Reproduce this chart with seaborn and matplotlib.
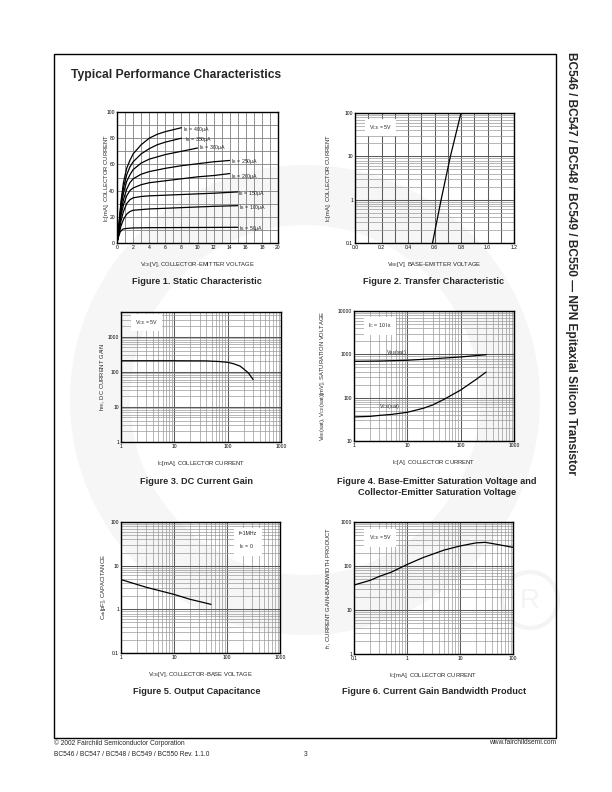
import matplotlib
matplotlib.use("Agg")
import matplotlib.pyplot as plt
from matplotlib.patches import Rectangle, Wedge, Circle
from matplotlib.ticker import FixedLocator, FixedFormatter, MultipleLocator, LogLocator, NullFormatter
import pandas as pd
import seaborn as sns

sns.set_theme(style="white")
plt.rcParams["font.family"] = ["Liberation Sans", "DejaVu Sans"]
plt.rcParams["mathtext.default"] = "regular"

# ---- data ----
# Figure 1: static characteristic, one curve per base current
IB_LABELS = ["400", "350", "300", "250", "200", "150", "100", "50"]
VCE_CURVES = [
    [0, 0.25, 0.5, 0.8, 1.2, 1.6, 2, 3, 4, 5, 6, 7, 8],
    [0, 0.25, 0.5, 0.8, 1.2, 1.6, 2, 3, 4, 5, 6, 7, 8],
    [0, 0.25, 0.5, 0.8, 1.2, 1.6, 2, 3, 4, 6, 8, 10],
    [0, 0.25, 0.5, 0.8, 1.2, 1.6, 2, 3, 4, 6, 8, 10, 12, 14],
    [0, 0.25, 0.5, 0.8, 1.2, 1.6, 2, 3, 4, 6, 8, 10, 12, 14],
    [0, 0.25, 0.5, 0.8, 1.2, 1.6, 2, 3, 4, 6, 8, 10, 12, 15],
    [0, 0.25, 0.5, 0.8, 1.2, 1.6, 2, 3, 4, 6, 8, 10, 12, 15],
    [0, 0.2, 0.4, 0.7, 1, 2, 4, 8, 12, 15],
]
IC_CURVES = [
    [0, 15, 32, 46, 57, 63, 68, 75, 80, 83, 85, 86.5, 88],
    [0, 14, 30, 42, 52, 58, 62, 68, 72, 75, 77, 78.5, 80],
    [0, 13, 27, 38, 47, 52, 56, 61, 64, 67.5, 70, 72.5],
    [0, 12, 24, 33, 41, 46, 49, 52.5, 54.5, 57, 59, 60.5, 62, 63],
    [0, 11, 21, 29, 36, 40, 42, 44.5, 46, 47.5, 49, 50.5, 51.5, 53],
    [0, 9, 17, 24, 30, 33, 34.5, 35.5, 36, 36.5, 37, 37.5, 38, 39],
    [0, 7, 13, 18, 22, 24, 25, 25.5, 26, 26.5, 27, 27.5, 28, 28.5],
    [0, 5, 8.5, 10.5, 11, 11.5, 11.7, 11.8, 11.9, 12],
]
IB_TEXT_X = [8.2, 8.4, 10.2, 14.1, 14.1, 15.0, 15.1, 15.1]
IB_TEXT_Y = [87, 79, 73, 62, 51, 38, 27, 11]

# Figure 2: transfer characteristic
VBE = [0.585, 0.65, 0.72, 0.80]
IC_TRANSFER = [0.1, 1, 10, 100]

# Figure 3: DC current gain
IC_GAIN = [1, 10, 40, 70, 100, 130, 170, 200, 245, 300]
HFE = [205, 205, 203, 195, 185, 168, 145, 120, 92, 60]

# Figure 4: saturation voltages
IC_VBE_SAT = [1, 3, 10, 30, 100, 300]
VBE_SAT = [690, 700, 730, 790, 870, 980]
IC_VCE_SAT = [1, 2, 3, 5, 10, 20, 30, 50, 100, 200, 300]
VCE_SAT = [36, 37, 39, 41, 46, 57, 68, 93, 150, 270, 390]

# Figure 5: output capacitance
VCB = [1, 3, 10, 20, 50]
COB = [4.8, 3.2, 2.2, 1.7, 1.3]

# Figure 6: gain bandwidth product
IC_FT = [0.1, 0.2, 0.3, 0.5, 1, 2, 5, 10, 20, 30, 50, 100]
FT = [37, 47, 58, 72, 108, 155, 230, 285, 335, 345, 310, 265]

W, H = 612, 792
fig = plt.figure(figsize=(6.12, 7.92), dpi=100)


def rect(l, r, t, b):
    return [l / W, 1 - b / H, (r - l) / W, (b - t) / H]


# faint logo watermark behind everything
bg = fig.add_axes([0, 0, 1, 1], zorder=-5)
bg.set_xlim(0, W)
bg.set_ylim(H, 0)
bg.axis("off")
bg.add_patch(Wedge((305, 400), 235, 0, 360, width=60, color="#f6f6f6", lw=0))
bg.add_patch(Circle((530, 600), 28, fill=False, ec="#f4f4f4", lw=3))
bg.text(530, 601, "R", ha="center", va="center", fontsize=20, color="#f4f4f4")
bg.add_patch(Rectangle((54, 54), 502, 684, fill=False, ec="black", lw=1.0))

GRID_MAJ = dict(color="#5a5a5a", lw=0.75)
GRID_MIN = dict(color="#9a9a9a", lw=0.5)
TXT = 3.8


def style(ax, xlabel, ylabel, xl_y, yl_x):
    ax.set_facecolor("none")
    for s in ax.spines.values():
        s.set_visible(True)
        s.set_color("black")
        s.set_linewidth(1.0)
    ax.tick_params(which="both", length=0, labelsize=3.6, pad=1.5, colors="black")
    ax.set_xlabel(xlabel, fontsize=4.2)
    ax.set_ylabel(ylabel, fontsize=4.2)
    ax.xaxis.set_label_coords(0.5, xl_y)
    ax.yaxis.set_label_coords(yl_x, 0.5)
    ax.set_axisbelow(True)


def log_axis(axis, ticks, labels):
    axis.set_major_locator(FixedLocator(ticks))
    axis.set_major_formatter(FixedFormatter(labels))
    axis.set_minor_locator(LogLocator(base=10, subs=range(2, 10), numticks=20))
    axis.set_minor_formatter(NullFormatter())


def log_grid(ax):
    ax.grid(True, which="major", **GRID_MAJ)
    ax.grid(True, which="minor", **GRID_MIN)


def note(ax, x, y, s, ha="center"):
    ax.text(x, y, s, transform=ax.transAxes, fontsize=TXT, ha=ha, va="center",
            bbox=dict(boxstyle="square,pad=0.8", fc="white", ec="none"), zorder=5)


def caption(x, y, s):
    fig.text(x / W, 1 - y / H, s, ha="center", va="center", fontsize=6.6,
             fontweight="bold", linespacing=1.15)


# ---- Figure 1 ----
ax1 = fig.add_axes(rect(117, 278, 112, 243))
rows = []
for lab, vs, ics in zip(IB_LABELS, VCE_CURVES, IC_CURVES):
    for v, c in zip(vs, ics):
        rows.append({"ib": lab, "vce": v, "ic": c})
df1 = pd.DataFrame(rows)
sns.lineplot(data=df1, x="vce", y="ic", hue="ib", palette=["black"] * len(IB_LABELS),
             estimator=None, sort=False, legend=False, lw=0.9, ax=ax1)
ax1.set_xlim(0, 20)
ax1.set_ylim(0, 100)
ax1.xaxis.set_major_locator(MultipleLocator(2))
ax1.xaxis.set_minor_locator(MultipleLocator(1))
ax1.yaxis.set_major_locator(MultipleLocator(20))
ax1.yaxis.set_minor_locator(MultipleLocator(10))
ax1.grid(True, which="both", color="#808080", lw=0.6)
for lab, tx, ty in zip(IB_LABELS, IB_TEXT_X, IB_TEXT_Y):
    ax1.text(tx, ty, rf"I$_B$ = {lab}μA", fontsize=TXT, ha="left", va="center")
style(ax1, r"V$_{CE}$[V], COLLECTOR-EMITTER VOLTAGE", r"I$_C$[mA], COLLECTOR CURRENT",
      -0.13, -0.04)

# ---- Figure 2 ----
ax2 = fig.add_axes(rect(355, 514, 113, 243))
sns.lineplot(x=VBE, y=IC_TRANSFER, color="black", lw=0.9, ax=ax2)
ax2.set_yscale("log")
ax2.set_xlim(0, 1.2)
ax2.set_ylim(0.1, 100)
ax2.xaxis.set_major_locator(MultipleLocator(0.2))
ax2.xaxis.set_minor_locator(MultipleLocator(0.1))
ax2.xaxis.set_major_formatter(matplotlib.ticker.FormatStrFormatter("%.1f"))
log_axis(ax2.yaxis, [0.1, 1, 10, 100], ["0.1", "1", "10", "100"])
ax2.grid(True, which="both", axis="x", **GRID_MAJ)
ax2.grid(True, which="major", axis="y", **GRID_MAJ)
ax2.grid(True, which="minor", axis="y", **GRID_MIN)
note(ax2, 0.16, 0.89, r"V$_{CE}$ = 5V")
style(ax2, r"V$_{BE}$[V], BASE-EMITTER VOLTAGE", r"I$_C$[mA], COLLECTOR CURRENT",
      -0.13, -0.14)

# ---- Figure 3 ----
ax3 = fig.add_axes(rect(121, 281, 312, 442))
sns.lineplot(x=IC_GAIN, y=HFE, color="black", lw=0.9, ax=ax3)
ax3.set_xscale("log")
ax3.set_yscale("log")
ax3.set_xlim(1, 1000)
ax3.set_ylim(1, 5000)
log_axis(ax3.xaxis, [1, 10, 100, 1000], ["1", "10", "100", "1000"])
log_axis(ax3.yaxis, [1, 10, 100, 1000], ["1", "10", "100", "1000"])
log_grid(ax3)
note(ax3, 0.16, 0.92, r"V$_{CE}$ = 5V")
style(ax3, r"I$_C$[mA], COLLECTOR CURRENT", r"h$_{FE}$, DC CURRENT GAIN", -0.13, -0.09)

# ---- Figure 4 ----
ax4 = fig.add_axes(rect(354, 514, 311, 441))
sns.lineplot(x=IC_VBE_SAT, y=VBE_SAT, color="black", lw=0.9, ax=ax4)
sns.lineplot(x=IC_VCE_SAT, y=VCE_SAT, color="black", lw=0.9, ax=ax4)
ax4.set_xscale("log")
ax4.set_yscale("log")
ax4.set_xlim(1, 1000)
ax4.set_ylim(10, 10000)
log_axis(ax4.xaxis, [1, 10, 100, 1000], ["1", "10", "100", "1000"])
log_axis(ax4.yaxis, [10, 100, 1000, 10000], ["10", "100", "1000", "10000"])
log_grid(ax4)
note(ax4, 0.16, 0.885, r"I$_C$ = 10 I$_B$")
ax4.text(6.2, 1080, r"V$_{BE}$(sat)", fontsize=TXT, ha="center", va="center")
ax4.text(4.7, 62, r"V$_{CE}$(sat)", fontsize=TXT, ha="center", va="center")
style(ax4, r"I$_C$[A], COLLECTOR CURRENT",
      r"V$_{BE}$(sat), V$_{CE}$(sat)[mV], SATURATION VOLTAGE", -0.13, -0.17)

# ---- Figure 5 ----
ax5 = fig.add_axes(rect(121, 280, 522, 653))
sns.lineplot(x=VCB, y=COB, color="black", lw=0.9, ax=ax5)
ax5.set_xscale("log")
ax5.set_yscale("log")
ax5.set_xlim(1, 1000)
ax5.set_ylim(0.1, 100)
log_axis(ax5.xaxis, [1, 10, 100, 1000], ["1", "10", "100", "1000"])
log_axis(ax5.yaxis, [0.1, 1, 10, 100], ["0.1", "1", "10", "100"])
log_grid(ax5)
ax5.text(0.74, 0.855, "f=1MHz\n" + r"I$_E$ = 0", transform=ax5.transAxes, fontsize=TXT,
         ha="left", va="center", linespacing=2.0,
         bbox=dict(boxstyle="square,pad=0.9", fc="white", ec="none"), zorder=5)
style(ax5, r"V$_{CB}$[V], COLLECTOR-BASE VOLTAGE", r"C$_{ob}$[pF], CAPACITANCE",
      -0.13, -0.08)

# ---- Figure 6 ----
ax6 = fig.add_axes(rect(354, 513, 522, 654))
sns.lineplot(x=IC_FT, y=FT, color="black", lw=0.9, ax=ax6)
ax6.set_xscale("log")
ax6.set_yscale("log")
ax6.set_xlim(0.1, 100)
ax6.set_ylim(1, 1000)
log_axis(ax6.xaxis, [0.1, 1, 10, 100], ["0.1", "1", "10", "100"])
log_axis(ax6.yaxis, [1, 10, 100, 1000], ["1", "10", "100", "1000"])
log_grid(ax6)
note(ax6, 0.165, 0.88, r"V$_{CE}$ = 5V")
style(ax6, r"I$_C$[mA], COLLECTOR CURRENT", r"f$_T$, CURRENT GAIN-BANDWIDTH PRODUCT",
      -0.13, -0.13)

# ---- page text ----
fig.text(71 / W, 1 - 75 / H, "Typical Performance Characteristics", fontsize=8.7,
         fontweight="bold", ha="left", va="center")
caption(197, 282, "Figure 1. Static Characteristic")
caption(434, 282, "Figure 2. Transfer Characteristic")
caption(197, 481, "Figure 3. DC Current Gain")
caption(437, 487, "Figure 4. Base-Emitter Saturation Voltage and\nCollector-Emitter Saturation Voltage")
caption(197, 692, "Figure 5. Output Capacitance")
caption(434, 692, "Figure 6. Current Gain Bandwidth Product")

fig.text(571 / W, 1 - 52 / H,
         "BC546 / BC547 / BC548 / BC549 / BC550 — NPN Epitaxial Silicon Transistor",
         rotation=-90, fontsize=8.6, fontweight="bold", ha="center", va="top")

fig.text(54 / W, 1 - 743 / H, "© 2002 Fairchild Semiconductor Corporation",
         fontsize=4.8, ha="left", va="center")
fig.text(54 / W, 1 - 754 / H, "BC546 / BC547 / BC548 / BC549 / BC550 Rev. 1.1.0",
         fontsize=4.8, ha="left", va="center")
fig.text(306 / W, 1 - 754 / H, "3", fontsize=4.8, ha="center", va="center")
fig.text(556 / W, 1 - 743 / H, "www.fairchildsemi.com", fontsize=4.8, ha="right",
         va="center")

fig.savefig("out.png", dpi=100)
